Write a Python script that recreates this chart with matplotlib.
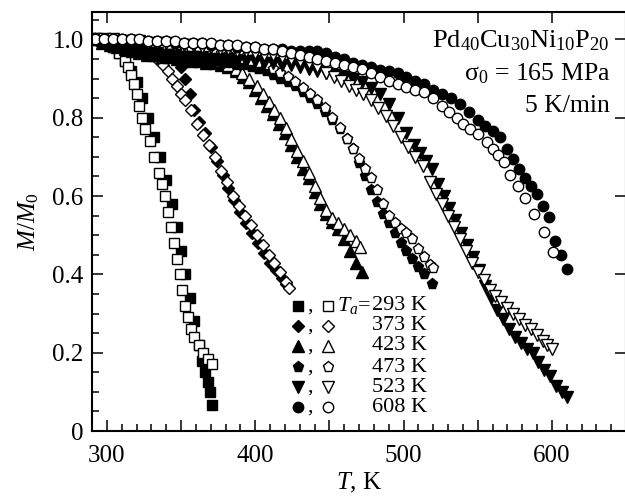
import matplotlib
matplotlib.use("Agg")
import matplotlib.pyplot as plt
from matplotlib.ticker import MultipleLocator, FuncFormatter

plt.rcParams['font.family'] = ['Liberation Serif', 'DejaVu Serif']
plt.rcParams['mathtext.fontset'] = 'custom'
plt.rcParams['mathtext.rm'] = 'Liberation Serif'
plt.rcParams['mathtext.it'] = 'Liberation Serif:italic'

# annealing temperatures, K
Ta_labels = ['293', '373', '423', '473', '523', '608']

# 293 K, squares
T_293_f = [292, 296, 300, 304, 308, 312, 316, 320, 324, 328, 332, 336, 340, 344, 347, 350, 353, 356, 359, 362, 364, 366, 368, 369.5, 371]
M_293_f = [1.0, 0.995, 0.99, 0.98, 0.965, 0.945, 0.92, 0.89, 0.85, 0.8, 0.75, 0.7, 0.64, 0.58, 0.52, 0.46, 0.4, 0.34, 0.28, 0.22, 0.18, 0.15, 0.125, 0.1, 0.066]
T_293_o = [292, 296, 300, 304, 308, 312, 314, 316, 318, 320, 322, 324, 326, 329, 332, 335, 337, 339, 341, 343, 345, 347, 349, 351, 353, 355, 357, 359, 362, 365, 368, 371]
M_293_o = [1.0, 0.998, 0.99, 0.98, 0.965, 0.945, 0.93, 0.91, 0.885, 0.86, 0.83, 0.8, 0.77, 0.74, 0.7, 0.66, 0.63, 0.6, 0.56, 0.52, 0.48, 0.44, 0.4, 0.36, 0.32, 0.29, 0.26, 0.24, 0.22, 0.2, 0.185, 0.17]

# 373 K, diamonds
T_373_f = [292, 297, 302, 307, 312, 317, 322, 327, 332, 337, 342, 346, 350, 353, 356, 359, 362, 366, 370, 374, 378, 382, 386, 390, 394, 398, 402, 406, 410, 414, 418, 421]
M_373_f = [1.0, 0.995, 0.99, 0.99, 0.985, 0.98, 0.975, 0.97, 0.965, 0.96, 0.955, 0.95, 0.93, 0.9, 0.86, 0.82, 0.79, 0.76, 0.725, 0.69, 0.655, 0.62, 0.59, 0.56, 0.53, 0.505, 0.48, 0.455, 0.43, 0.41, 0.39, 0.375]
T_373_o = [292, 297, 302, 307, 312, 317, 322, 326, 330, 334, 338, 341, 344, 347, 350, 353, 357, 361, 365, 369, 373, 377, 381, 385, 389, 393, 397, 401, 405, 409, 413, 417, 421, 423]
M_373_o = [1.0, 1.0, 0.995, 0.99, 0.99, 0.985, 0.98, 0.975, 0.965, 0.95, 0.935, 0.92, 0.9, 0.88, 0.86, 0.845, 0.82, 0.785, 0.755, 0.73, 0.7, 0.665, 0.635, 0.6, 0.575, 0.55, 0.525, 0.5, 0.475, 0.45, 0.43, 0.405, 0.38, 0.365]

# 423 K, triangles up
T_423_f = [292, 297, 302, 307, 312, 317, 322, 327, 332, 337, 342, 347, 352, 357, 362, 367, 372, 377, 382, 387, 392, 396, 400, 404, 408, 412, 416, 420, 424, 428, 432, 436, 440, 444, 448, 452, 456, 460, 464, 468, 472]
M_423_f = [1.0, 0.99, 0.985, 0.98, 0.975, 0.97, 0.965, 0.96, 0.96, 0.955, 0.955, 0.95, 0.95, 0.945, 0.945, 0.94, 0.94, 0.935, 0.93, 0.92, 0.905, 0.89, 0.87, 0.85, 0.83, 0.81, 0.785, 0.76, 0.73, 0.7, 0.67, 0.645, 0.61, 0.58, 0.555, 0.535, 0.515, 0.49, 0.46, 0.43, 0.405]
T_423_o = [292, 297, 302, 307, 312, 317, 322, 327, 332, 337, 342, 347, 352, 357, 362, 367, 372, 377, 382, 387, 391, 396, 401, 405, 409, 413, 417, 421, 424, 428, 432, 436, 440, 444, 448, 452, 456, 460, 464, 468, 471]
M_423_o = [1.0, 1.0, 1.0, 0.995, 0.995, 0.99, 0.99, 0.985, 0.985, 0.98, 0.98, 0.975, 0.97, 0.965, 0.96, 0.955, 0.95, 0.945, 0.935, 0.925, 0.915, 0.9, 0.88, 0.86, 0.84, 0.82, 0.8, 0.775, 0.745, 0.715, 0.69, 0.66, 0.625, 0.595, 0.565, 0.545, 0.53, 0.515, 0.5, 0.485, 0.47]

# 473 K, pentagons
T_473_f = [292, 297, 302, 307, 312, 317, 322, 327, 332, 337, 342, 347, 352, 357, 362, 367, 372, 377, 382, 387, 392, 397, 402, 407, 412, 417, 422, 427, 432, 437, 442, 447, 452, 457, 462, 466, 470, 474, 478, 482, 486, 490, 494, 498, 502, 506, 510, 514, 519]
M_473_f = [1.0, 0.99, 0.985, 0.98, 0.975, 0.97, 0.965, 0.96, 0.96, 0.955, 0.955, 0.95, 0.95, 0.95, 0.945, 0.945, 0.945, 0.94, 0.94, 0.935, 0.935, 0.93, 0.925, 0.92, 0.91, 0.9, 0.89, 0.88, 0.865, 0.85, 0.835, 0.815, 0.795, 0.77, 0.745, 0.72, 0.685, 0.65, 0.615, 0.585, 0.555, 0.53, 0.505, 0.48, 0.46, 0.44, 0.42, 0.4, 0.375]
T_473_o = [292, 297, 302, 307, 312, 317, 322, 327, 332, 337, 342, 347, 352, 357, 362, 367, 372, 377, 382, 387, 392, 397, 402, 407, 412, 417, 422, 427, 432, 437, 442, 447, 452, 457, 462, 466, 470, 474, 478, 482, 486, 490, 494, 498, 502, 506, 510, 514, 518, 520]
M_473_o = [1.0, 1.0, 1.0, 1.0, 0.995, 0.995, 0.99, 0.99, 0.99, 0.985, 0.985, 0.98, 0.98, 0.975, 0.975, 0.97, 0.97, 0.965, 0.96, 0.955, 0.95, 0.945, 0.94, 0.935, 0.925, 0.915, 0.905, 0.89, 0.875, 0.86, 0.845, 0.825, 0.8, 0.775, 0.745, 0.72, 0.695, 0.67, 0.645, 0.615, 0.58, 0.55, 0.53, 0.515, 0.505, 0.49, 0.465, 0.445, 0.425, 0.415]

# 523 K, triangles down
T_523_f = [292, 298, 304, 310, 316, 322, 328, 334, 340, 346, 352, 358, 364, 370, 376, 382, 388, 394, 400, 406, 412, 418, 424, 430, 436, 442, 448, 454, 460, 466, 472, 478, 484, 490, 496, 502, 507, 511, 515, 519, 523, 527, 531, 535, 539, 543, 547, 551, 555, 559, 563, 567, 571, 575, 579, 583, 587, 591, 595, 599, 603, 607, 610]
M_523_f = [1.0, 0.99, 0.985, 0.98, 0.975, 0.97, 0.965, 0.965, 0.96, 0.96, 0.955, 0.955, 0.955, 0.95, 0.95, 0.95, 0.945, 0.945, 0.945, 0.94, 0.94, 0.935, 0.935, 0.93, 0.925, 0.92, 0.915, 0.91, 0.905, 0.9, 0.89, 0.875, 0.86, 0.835, 0.8, 0.76, 0.73, 0.71, 0.69, 0.67, 0.63, 0.6, 0.57, 0.54, 0.505, 0.475, 0.445, 0.41, 0.37, 0.34, 0.31, 0.285, 0.26, 0.24, 0.225, 0.21, 0.2, 0.175, 0.155, 0.14, 0.115, 0.1, 0.087]
T_523_o = [292, 298, 304, 310, 316, 322, 328, 334, 340, 346, 352, 358, 364, 370, 376, 382, 388, 394, 400, 406, 412, 418, 424, 430, 436, 442, 448, 453, 458, 463, 468, 473, 478, 483, 488, 493, 498, 503, 508, 513, 518, 522, 526, 530, 534, 538, 542, 546, 550, 554, 558, 562, 566, 570, 574, 578, 582, 586, 590, 594, 597, 600]
M_523_o = [1.0, 1.0, 1.0, 0.995, 0.995, 0.995, 0.99, 0.99, 0.99, 0.985, 0.985, 0.985, 0.98, 0.98, 0.975, 0.975, 0.97, 0.97, 0.965, 0.96, 0.96, 0.955, 0.95, 0.945, 0.94, 0.93, 0.915, 0.905, 0.895, 0.88, 0.87, 0.86, 0.845, 0.825, 0.805, 0.78, 0.75, 0.725, 0.7, 0.676, 0.635, 0.605, 0.58, 0.55, 0.52, 0.49, 0.46, 0.43, 0.405, 0.385, 0.36, 0.345, 0.33, 0.315, 0.3, 0.285, 0.27, 0.26, 0.245, 0.23, 0.22, 0.21]

# 608 K, circles
T_608_f = [292, 298, 304, 310, 316, 322, 328, 334, 340, 346, 352, 358, 364, 370, 376, 382, 388, 394, 400, 406, 412, 418, 424, 430, 436, 442, 448, 454, 460, 466, 472, 478, 484, 490, 496, 502, 508, 514, 520, 526, 532, 538, 544, 550, 555, 560, 565, 570, 574, 578, 582, 586, 590, 594, 598, 602, 606, 610]
M_608_f = [1.0, 1.0, 1.0, 1.0, 1.0, 0.995, 0.995, 0.995, 0.995, 0.99, 0.99, 0.99, 0.99, 0.985, 0.985, 0.985, 0.98, 0.98, 0.98, 0.975, 0.975, 0.975, 0.97, 0.97, 0.97, 0.97, 0.965, 0.955, 0.95, 0.94, 0.935, 0.93, 0.923, 0.92, 0.915, 0.905, 0.895, 0.885, 0.87, 0.86, 0.85, 0.835, 0.815, 0.795, 0.78, 0.765, 0.75, 0.72, 0.695, 0.67, 0.645, 0.625, 0.605, 0.575, 0.546, 0.485, 0.45, 0.413]
T_608_o = [292, 298, 304, 310, 316, 322, 328, 334, 340, 346, 352, 358, 364, 370, 376, 382, 388, 394, 400, 406, 412, 418, 424, 430, 436, 442, 448, 454, 460, 466, 472, 478, 484, 490, 496, 502, 508, 514, 520, 526, 531, 536, 540, 545, 550, 556, 560, 564, 568, 572, 577, 582, 588, 595, 601]
M_608_o = [1.0, 1.0, 1.0, 1.0, 1.0, 1.0, 0.995, 0.995, 0.995, 0.995, 0.99, 0.99, 0.99, 0.99, 0.985, 0.985, 0.985, 0.98, 0.98, 0.975, 0.975, 0.97, 0.965, 0.96, 0.955, 0.95, 0.945, 0.94, 0.935, 0.93, 0.925, 0.915, 0.905, 0.895, 0.885, 0.878, 0.87, 0.865, 0.85, 0.83, 0.814, 0.8, 0.783, 0.77, 0.758, 0.737, 0.72, 0.705, 0.686, 0.655, 0.625, 0.595, 0.555, 0.507, 0.456]

series = [
    (T_293_f, M_293_f, T_293_o, M_293_o, 's', 7.0),
    (T_373_f, M_373_f, T_373_o, M_373_o, 'D', 6.5),
    (T_423_f, M_423_f, T_423_o, M_423_o, '^', 8.0),
    (T_473_f, M_473_f, T_473_o, M_473_o, 'p', 8.0),
    (T_523_f, M_523_f, T_523_o, M_523_o, 'v', 8.0),
    (T_608_f, M_608_f, T_608_o, M_608_o, 'o', 7.5),
]

W, H = 625, 497
fig = plt.figure(figsize=(W / 100, H / 100), dpi=100)
# axes box in pixels: left 92, right 626, top 12, bottom 431
ax = fig.add_axes([92 / W, 1 - 431 / H, (626 - 92) / W, (431 - 12) / H])

for Tf, Mf, To, Mo, mk, ms in series:
    ax.plot(Tf, Mf, ls='none', marker=mk, ms=ms, mfc='k', mec='k', mew=1.0)
    ax.plot(To, Mo, ls='none', marker=mk, ms=ms, mfc='white', mec='k', mew=1.0)

ax.set_xlim(290, 650)
ax.set_ylim(0, 1.07)

ax.xaxis.set_major_locator(MultipleLocator(50))
ax.xaxis.set_minor_locator(MultipleLocator(10))
ax.xaxis.set_major_formatter(FuncFormatter(lambda v, p: '%d' % v if v % 100 == 0 else ''))
ax.yaxis.set_major_locator(MultipleLocator(0.2))
ax.yaxis.set_minor_locator(MultipleLocator(0.05))
ax.yaxis.set_major_formatter(FuncFormatter(lambda v, p: '0' if abs(v) < 1e-9 else '%.1f' % v))

ax.tick_params(which='both', direction='in', labelsize=18, width=1.1)
ax.tick_params(which='major', length=8, top=True, right=True)
ax.tick_params(which='minor', length=5, top=False, right=False)
ax.tick_params(axis='x', pad=10)
ax.tick_params(axis='y', pad=6)
for s in ax.spines.values():
    s.set_linewidth(1.5)

ax.set_xlabel('$T$, K', fontsize=18, labelpad=3)
ax.set_ylabel('$M/M_0$', fontsize=18, labelpad=8)

# sample annotation, top right
fig.text(610 / W, 1 - 41 / H, 'Pd$_{40}$Cu$_{30}$Ni$_{10}$P$_{20}$', ha='right', va='center', fontsize=19)
fig.text(610 / W, 1 - 74 / H, 'σ$_0$ = 165 MPa', ha='right', va='center', fontsize=18.5)
fig.text(610 / W, 1 - 106 / H, '5 K/min', ha='right', va='center', fontsize=18.5)

# hand made legend
row_y = [306, 326, 346, 367, 387, 407]
for i, (Tf, Mf, To, Mo, mk, ms) in enumerate(series):
    yy = 1 - row_y[i] / H
    fig.lines.append(plt.Line2D([298 / W], [yy], transform=fig.transFigure, ls='none',
                                marker=mk, ms=ms, mfc='k', mec='k'))
    fig.text(310 / W, yy, ',', ha='center', va='center', fontsize=16)
    fig.lines.append(plt.Line2D([328 / W], [yy], transform=fig.transFigure, ls='none',
                                marker=mk, ms=ms, mfc='white', mec='k'))
    fig.text(427 / W, yy, Ta_labels[i] + ' K', ha='right', va='center', fontsize=16)
fig.text(337 / W, 1 - row_y[0] / H, '$T_a$=', ha='left', va='center', fontsize=16)

fig.savefig('out.png', dpi=100)
